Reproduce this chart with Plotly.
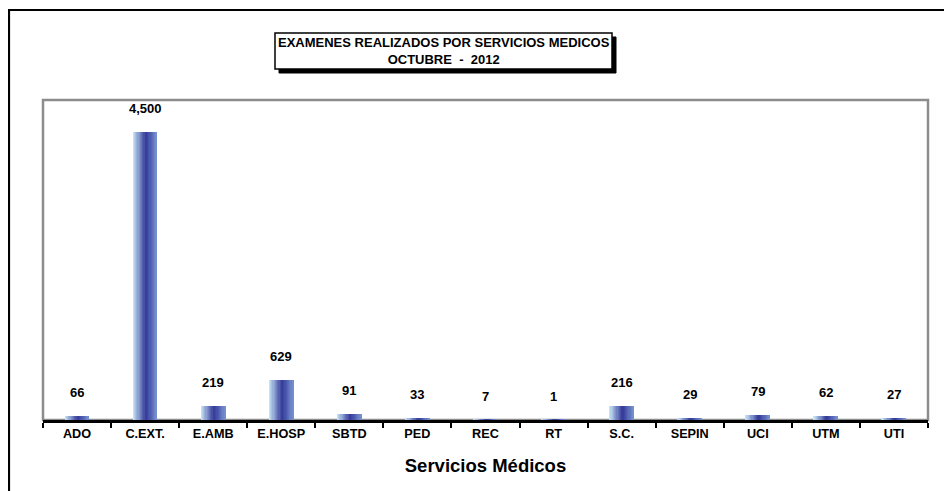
import plotly.graph_objects as go

categories = ["ADO", "C.EXT.", "E.AMB", "E.HOSP", "SBTD", "PED", "REC", "RT",
              "S.C.", "SEPIN", "UCI", "UTM", "UTI"]
values = [66, 4500, 219, 629, 91, 33, 7, 1, 216, 29, 79, 62, 27]
title_lines = ["EXAMENES REALIZADOS POR SERVICIOS MEDICOS", "OCTUBRE  -  2012"]
x_title = "Servicios Médicos"

OFF = 8  # page body margin
W, H = 952 - OFF, 491 - OFF
ML, MR, MT, MB = 35, 24, 92, 71
PW, PH = W - ML - MR, H - MT - MB

def lerp(c1, c2, t):
    return tuple(round(a + (b - a) * t) for a, b in zip(c1, c2))

stops = [(0.0, (202, 234, 250)), (0.55, (50, 56, 152)), (1.0, (120, 146, 208))]
def grad(t):
    for (t0, c0), (t1, c1) in zip(stops[:-1], stops[1:]):
        if t <= t1:
            return lerp(c0, c1, (t - t0) / (t1 - t0))
    return stops[-1][1]

fig = go.Figure()
bar_w = 0.353
N = 20
sw = bar_w / N
for i in range(N):
    c = grad((i + 0.5) / N)
    fig.add_trace(go.Bar(
        x=categories, y=values, width=sw * 1.02, offset=-bar_w / 2 + i * sw,
        marker=dict(color="rgb(%d,%d,%d)" % c, line=dict(width=0)),
        showlegend=False, hoverinfo="skip"))

FONT = "Liberation Sans"
for cat, v in zip(categories, values):
    fig.add_annotation(x=cat, y=v, text=f"<b>{v:,}</b>", showarrow=False,
                       yanchor="bottom", yshift=14,
                       font=dict(family=FONT, size=13, color="black"))

def px_x(p):
    return (p - OFF - ML) / PW
def px_y(p):
    return (H - MB - (p - OFF)) / PH

shapes = [
    # outer frame
    dict(type="rect", xref="paper", yref="paper", x0=px_x(9), x1=px_x(990),
         y0=px_y(540), y1=px_y(10), line=dict(color="black", width=2.2), layer="below"),
    # plot area border
    dict(type="rect", xref="paper", yref="paper", x0=0, x1=1, y0=0, y1=1,
         line=dict(color="#8c8c8c", width=2.5), layer="below"),
    # title box shadow
    dict(type="rect", xref="paper", yref="paper", x0=px_x(279), x1=px_x(616),
         y0=px_y(73), y1=px_y(37), fillcolor="black", line=dict(color="black", width=1),
         layer="above"),
    # title box
    dict(type="rect", xref="paper", yref="paper", x0=px_x(275), x1=px_x(612),
         y0=px_y(69), y1=px_y(33), fillcolor="white", line=dict(color="black", width=1.5),
         layer="above"),
]

title_text = "<b>" + "<br>".join(title_lines) + "</b>"
fig.add_annotation(xref="paper", yref="paper", x=px_x(443.5), y=px_y(51.5),
                   xanchor="center", yanchor="middle",
                   text=title_text, showarrow=False,
                   font=dict(family=FONT, size=13, color="black"))

fig.update_layout(
    width=W, height=H,
    margin=dict(l=ML, r=MR, t=MT, b=MB, pad=0),
    paper_bgcolor="white", plot_bgcolor="white",
    barmode="overlay", bargap=0,
    font=dict(family=FONT, size=13, color="black"),
    shapes=shapes,
    xaxis=dict(
        type="category", showgrid=False, showline=True, linecolor="black", linewidth=2.5,
        ticks="outside", tickson="boundaries", ticklen=5, tickwidth=2, tickcolor="black",
        tickfont=dict(family=FONT, size=12.7, color="black", weight="bold"),
        title=dict(text="<b>" + x_title + "</b>", standoff=20,
                   font=dict(family=FONT, size=18.5, color="black")),
        zeroline=False,
    ),
    yaxis=dict(range=[0, 5000], showgrid=False, showticklabels=False, zeroline=False,
               showline=False, ticks=""),
)

fig.write_html("out.html")
